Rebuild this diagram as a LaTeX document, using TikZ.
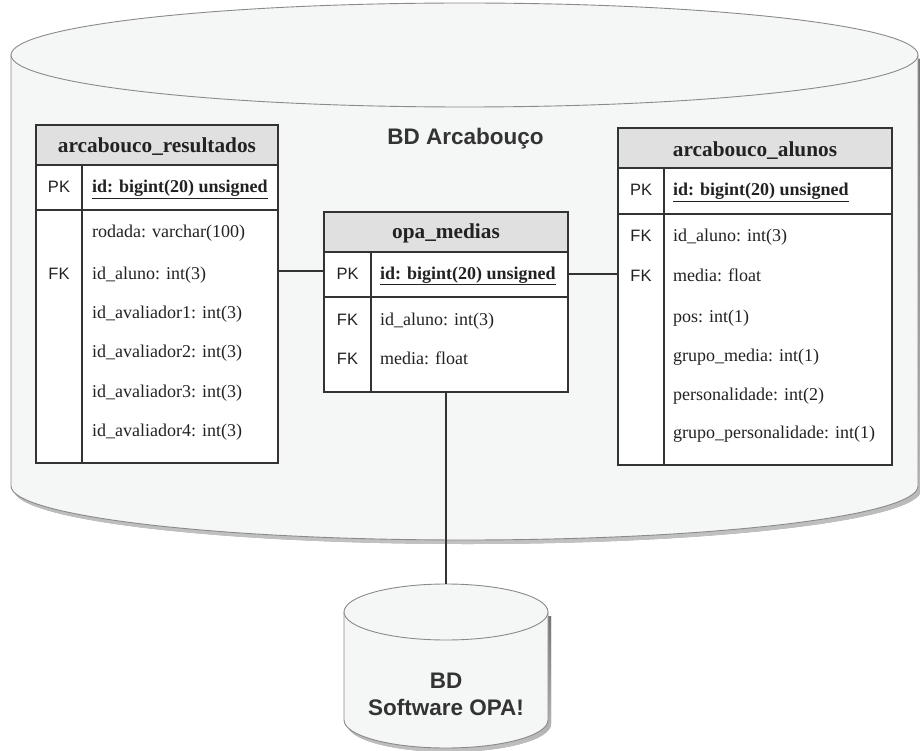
\documentclass[tikz,border=0pt]{standalone}
\usepackage{fontspec}
\setmainfont{Liberation Serif}
\newfontfamily\sansf{Liberation Sans}
\definecolor{edge}{HTML}{333333}
\definecolor{cylfill}{HTML}{F5F6F6}
\definecolor{cyledge}{HTML}{8A8A8A}
\definecolor{hdrfill}{HTML}{E0E0E0}
\definecolor{shade}{HTML}{B4BBCD}
\definecolor{txt}{HTML}{222222}
\tikzset{
  part/.style={draw=edge, line width=1.1pt, inner sep=0pt, outer sep=0pt, anchor=north west, fill=white},
  hdr/.style={part, fill=hdrfill},
  hdrtxt/.style={font=\fontsize{21.3}{23}\selectfont\bfseries, inner sep=0pt, anchor=base, text=txt},
  field/.style={font=\fontsize{18}{20}\selectfont, inner sep=0pt, anchor=base west, text=txt},
  pkfield/.style={field, font=\fontsize{18}{20}\selectfont\bfseries},
  key/.style={font=\sansf\fontsize{16.5}{18}\selectfont, inner sep=0pt, anchor=base, text=txt},
  conn/.style={draw=edge, line width=1.1pt},
  cyl/.style={fill=cylfill, draw=cyledge, line width=0.9pt},
  cyltxt/.style={font=\sansf\fontsize{22.5}{24}\selectfont\bfseries, inner sep=0pt, anchor=base, text=edge},
  divline/.style={draw=edge, line width=1.1pt}
}
\begin{document}
\begin{tikzpicture}[x=1pt, y=-1pt]
\useasboundingbox (0,0) rectangle (920,751);
% big cylinder shadow
\fill[shade, opacity=0.6] (14,59) -- (14,490) .. controls (14,519.8) and (217,544) .. (467.5,544) .. controls (718,544) and (921,519.8) .. (921,490) -- (921,59) -- cycle;
% big cylinder body
\path[cyl] (11,55) -- (11,486) .. controls (11,515.8) and (214,540) .. (464.5,540) .. controls (715,540) and (918,515.8) .. (918,486) -- (918,55);
\draw[cyl] (464.5,55) ellipse [x radius=453.5, y radius=52];
\node[cyltxt] (bdarc) at (465.5,145) {BD Arcabouço};

% small cylinder shadow
\fill[shade, opacity=0.6] (347,616) -- (347,724) .. controls (347,739.5) and (393,752) .. (449,752) .. controls (505,752) and (551,739.5) .. (551,724) -- (551,616) -- cycle;
\path[cyl] (344,612) -- (344,720) .. controls (344,735.5) and (389.7,748) .. (446,748) .. controls (502.3,748) and (548,735.5) .. (548,720) -- (548,612);
\draw[cyl] (446,612) ellipse [x radius=102, y radius=28];
\coordinate (opatop) at (446,584);
\node[cyltxt] (bd1) at (446,688) {BD};
\node[cyltxt] (bd2) at (446,715) {Software OPA!};

% ---------- arcabouco_resultados ----------
\node[hdr, minimum width=242pt, minimum height=40pt] (resH) at (36,125) {};
\node[part, minimum width=242pt, minimum height=45pt] (resP) at (36,165) {};
\node[part, minimum width=242pt, minimum height=253pt] (resB) at (36,210) {};
\draw[divline] (82,165) -- (82,463);
\node[hdrtxt] (resHt) at (157,153) {arcabouco\_resultados};
\node[key] (resPK) at (59,193) {PK};
\node[pkfield] (resId) at (92,193) {\underline{id: bigint(20) unsigned}};
\node[field] (resR1) at (92,238) {rodada: varchar(100)};
\node[key] (resFK) at (59,279) {FK};
\node[field] (resR2) at (92,279) {id\_aluno: int(3)};
\node[field] (resR3) at (92,318) {id\_avaliador1: int(3)};
\node[field] (resR4) at (92,357) {id\_avaliador2: int(3)};
\node[field] (resR5) at (92,397) {id\_avaliador3: int(3)};
\node[field] (resR6) at (92,436) {id\_avaliador4: int(3)};

% ---------- opa_medias ----------
\node[hdr, minimum width=244pt, minimum height=40pt] (opaH) at (324,212) {};
\node[part, minimum width=244pt, minimum height=45pt] (opaP) at (324,252) {};
\node[part, minimum width=244pt, minimum height=95pt] (opaB) at (324,297) {};
\draw[divline] (371,252) -- (371,392);
\node[hdrtxt] (opaHt) at (446,239) {opa\_medias};
\node[key] (opaPK) at (347.5,279) {PK};
\node[pkfield] (opaId) at (380,279) {\underline{id: bigint(20) unsigned}};
\node[key] (opaFK1) at (347.5,325) {FK};
\node[field] (opaR1) at (380,325) {id\_aluno: int(3)};
\node[key] (opaFK2) at (347.5,364) {FK};
\node[field] (opaR2) at (380,364) {media: float};

% ---------- arcabouco_alunos ----------
\node[hdr, minimum width=274pt, minimum height=40pt] (aluH) at (618,128) {};
\node[part, minimum width=274pt, minimum height=46pt] (aluP) at (618,168) {};
\node[part, minimum width=274pt, minimum height=251pt] (aluB) at (618,214) {};
\draw[divline] (664,168) -- (664,465);
\node[hdrtxt] (aluHt) at (755,157) {arcabouco\_alunos};
\node[key] (aluPK) at (641,196) {PK};
\node[pkfield] (aluId) at (673,196) {\underline{id: bigint(20) unsigned}};
\node[key] (aluFK1) at (641,242) {FK};
\node[field] (aluR1) at (673,242) {id\_aluno: int(3)};
\node[key] (aluFK2) at (641,281) {FK};
\node[field] (aluR2) at (673,281) {media: float};
\node[field] (aluR3) at (673,322) {pos: int(1)};
\node[field] (aluR4) at (673,361) {grupo\_media: int(1)};
\node[field] (aluR5) at (673,400) {personalidade: int(2)};
\node[field] (aluR6) at (673,438) {grupo\_personalidade: int(1)};

% ---------- connectors ----------
\draw[conn] (resB.east |- 0,271) -- (opaP.west |- 0,271);
\draw[conn] (opaP.east |- 0,274) -- (aluB.west |- 0,274);
\draw[conn] (opaB.south) -- (opatop);
\end{tikzpicture}
\end{document}
